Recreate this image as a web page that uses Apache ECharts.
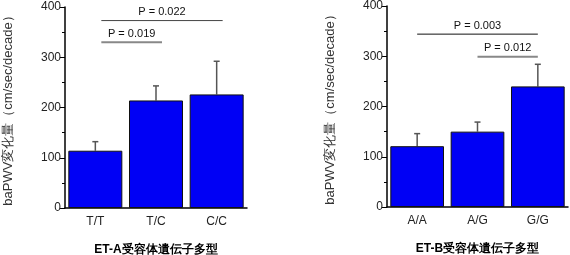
<!DOCTYPE html>
<html><head><meta charset="utf-8">
<script src="https://cdn.jsdelivr.net/npm/echarts@6/dist/echarts.min.js"></script>
<style>html,body{margin:0;padding:0;background:#fff}#c{width:570px;height:255px}</style>
</head><body><div id="c"></div>
<script>
const catsA = ['T/T', 'T/C', 'C/C'];
const meanA = [114, 214, 226];
const errA = [18, 29, 66];
const catsB = ['A/A', 'A/G', 'G/G'];
const meanB = [121, 150, 240];
const errB = [25, 19, 44];
const yTicks = [0, 100, 200, 300, 400];
// brackets: [fromIndex, toIndex, yValue, label]
const bracketsA = [[0, 2, 373, 'P = 0.022'], [0, 1, 330, 'P = 0.019']];
const bracketsB = [[0, 2, 344, 'P = 0.003'], [1, 2, 299, 'P = 0.012']];
const xNameA = 'ET-A受容体遺伝子多型';
const xNameB = 'ET-B受容体遺伝子多型';
const yName = 'baPWV変化量（cm/sec/decade）';

const FONT = '"Liberation Sans", Arial, sans-serif';
const chart = echarts.init(document.getElementById('c'), null, {renderer: 'canvas'});

function errSeries(idx, means, errs) {
  return {
    type: 'custom', xAxisIndex: idx, yAxisIndex: idx, z: 1,
    data: means.map((m, i) => [i, m, m + errs[i]]),
    renderItem(params, api) {
      const lo = api.coord([api.value(0), api.value(1)]);
      const hi = api.coord([api.value(0), api.value(2)]);
      const s = {stroke: '#555', lineWidth: 1.5};
      return {type: 'group', children: [
        {type: 'line', shape: {x1: lo[0], y1: lo[1], x2: hi[0], y2: hi[1]}, style: s},
        {type: 'line', shape: {x1: hi[0] - 3, y1: hi[1], x2: hi[0] + 3, y2: hi[1]}, style: s}
      ]};
    }
  };
}
function bracketSeries(idx, brackets, shift, styles) {
  return {
    type: 'custom', xAxisIndex: idx, yAxisIndex: idx, z: 5,
    data: brackets,
    renderItem(params, api) {
      const a = api.coord([api.value(0), api.value(2)]);
      const b = api.coord([api.value(1), api.value(2)]);
      const st = styles[params.dataIndex];
      return {type: 'group', children: [
        {type: 'line', shape: {x1: a[0] + shift, y1: a[1], x2: b[0] + shift, y2: b[1]}, style: {stroke: st.c, lineWidth: st.w}},
        {type: 'text', x: (a[0] + b[0]) / 2 + shift, y: a[1] - 3,
          style: {text: brackets[params.dataIndex][3], fill: '#111', font: '11px ' + FONT, align: 'center', verticalAlign: 'bottom'}}
      ]};
    }
  };
}
function xAx(idx, cats, name) {
  return {
    type: 'category', gridIndex: idx, data: cats,
    axisLine: {lineStyle: {color: '#000', width: 1.5}},
    axisTick: {alignWithLabel: true, length: 3, lineStyle: {color: '#000'}},
    axisLabel: {color: '#222', fontSize: 12, fontFamily: FONT, margin: 8},
    name: name, nameLocation: 'middle', nameGap: 36,
    nameTextStyle: {color: '#000', fontSize: 12, fontWeight: 'bold', fontFamily: FONT}
  };
}
function yAx(idx) {
  return {
    type: 'value', gridIndex: idx, min: yTicks[0], max: yTicks[yTicks.length - 1], interval: 100,
    axisLine: {show: true, lineStyle: {color: '#000', width: 1.5}},
    axisTick: {show: true, length: 5, lineStyle: {color: '#000'}},
    minorTick: {show: true, splitNumber: 2, length: 3, lineStyle: {color: '#000'}},
    splitLine: {show: false},
    axisLabel: {color: '#222', fontSize: 12, fontFamily: FONT, margin: 4},
    name: yName, nameLocation: 'middle', nameGap: 50,
    nameTextStyle: {color: '#333', fontSize: 13, fontFamily: FONT}
  };
}
function barSeries(idx, means) {
  return {
    type: 'bar', xAxisIndex: idx, yAxisIndex: idx, data: means, barWidth: '89%', z: 2,
    itemStyle: {color: '#0000f5', borderColor: '#111', borderWidth: 1},
    emphasis: {disabled: true}
  };
}
chart.setOption({
  animation: false,
  grid: [
    {left: 65, top: 7, width: 182, height: 201, containLabel: false, outerBoundsMode: 'none'},
    {left: 387, top: 6, width: 181, height: 201, containLabel: false, outerBoundsMode: 'none'}
  ],
  xAxis: [xAx(0, catsA, xNameA), xAx(1, catsB, xNameB)],
  yAxis: [yAx(0), yAx(1)],
  series: [
    errSeries(0, meanA, errA), barSeries(0, meanA),
    errSeries(1, meanB, errB), barSeries(1, meanB),
    bracketSeries(0, bracketsA, 6, [{c: '#444', w: 1}, {c: '#888', w: 2}]),
    bracketSeries(1, bracketsB, 0, [{c: '#111', w: 1}, {c: '#888', w: 2}])
  ]
});
</script></body></html>
